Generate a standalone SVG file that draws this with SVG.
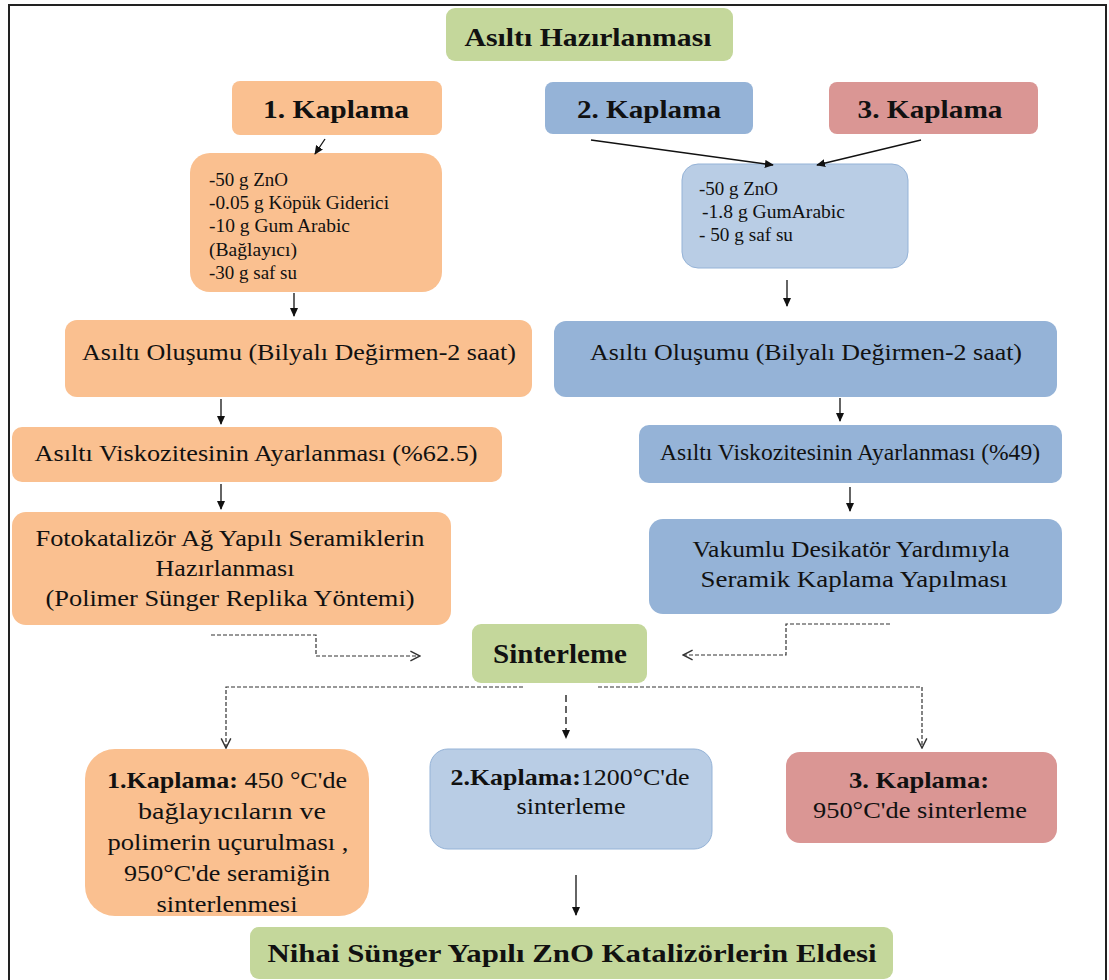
<svg xmlns="http://www.w3.org/2000/svg" width="1109" height="980" viewBox="0 0 1109 980" font-family="'Liberation Serif', 'DejaVu Serif', serif">
<style>
text{font-family:'Liberation Serif','DejaVu Serif',serif;fill:#111}
.t{font-size:26px;font-weight:bold;text-anchor:middle}
.m{font-size:24px;text-anchor:middle}
.q{font-size:23px;text-anchor:middle}
.s{font-size:18px}
.g{fill:#c4d79b}
.o{fill:#fac090}
.b{fill:#95b3d7}
.lb{fill:#b9cde5;stroke:#95b3d7;stroke-width:1}
.r{fill:#da9694}
.ln{stroke:#111;stroke-width:1.3;fill:none}
.d{stroke:#333;stroke-width:1.2;fill:none;stroke-dasharray:4 2}
</style>
<defs>
<marker id="fa" viewBox="0 0 10 10" refX="9" refY="5" markerWidth="9" markerHeight="9" orient="auto" markerUnits="userSpaceOnUse"><path d="M0,0.5 L10,5 L0,9.5 Z" fill="#111"/></marker>
<marker id="oa" viewBox="0 0 10 10" refX="9" refY="5" markerWidth="12" markerHeight="12" orient="auto" markerUnits="userSpaceOnUse"><path d="M1,1 L9,5 L1,9" fill="none" stroke="#333" stroke-width="1.2"/></marker>
</defs>
<rect x="0" y="0" width="1109" height="980" fill="#fff"/>
<rect x="9" y="5" width="1097" height="990" fill="none" stroke="#222" stroke-width="2"/>

<g id="n-asilti"><rect class="g" x="446" y="8" width="287" height="53" rx="9"/><text class="t" x="588" y="46" textLength="247" lengthAdjust="spacingAndGlyphs">Asıltı Hazırlanması</text></g>
<g id="n-k1"><rect class="o" x="232" y="81" width="210" height="54" rx="8"/><text class="t" x="336" y="118" textLength="146" lengthAdjust="spacingAndGlyphs">1. Kaplama</text></g>
<g id="n-k2"><rect class="b" x="545" y="82" width="208" height="52" rx="8"/><text class="t" x="649" y="118" textLength="144" lengthAdjust="spacingAndGlyphs">2. Kaplama</text></g>
<g id="n-k3"><rect class="r" x="829" y="82" width="209" height="52" rx="8"/><text class="t" x="930" y="118" textLength="145" lengthAdjust="spacingAndGlyphs">3. Kaplama</text></g>

<g id="n-ing1"><rect class="o" x="190" y="153" width="252" height="139" rx="20"/>
<text class="s" x="209" y="186" textLength="79" lengthAdjust="spacingAndGlyphs">-50 g ZnO</text>
<text class="s" x="209" y="209" textLength="180" lengthAdjust="spacingAndGlyphs">-0.05 g Köpük Giderici</text>
<text class="s" x="209" y="232" textLength="141" lengthAdjust="spacingAndGlyphs">-10 g Gum Arabic</text>
<text class="s" x="209" y="256" textLength="88" lengthAdjust="spacingAndGlyphs">(Bağlayıcı)</text>
<text class="s" x="209" y="279" textLength="88" lengthAdjust="spacingAndGlyphs">-30 g saf su</text></g>
<g id="n-ing2"><rect class="lb" x="682" y="164" width="226" height="104" rx="16"/>
<text class="s" x="699" y="195" textLength="79" lengthAdjust="spacingAndGlyphs">-50 g ZnO</text>
<text class="s" x="702" y="218" textLength="143" lengthAdjust="spacingAndGlyphs">-1.8 g GumArabic</text>
<text class="s" x="699" y="241" textLength="94" lengthAdjust="spacingAndGlyphs">- 50 g saf su</text></g>

<g id="n-olus1"><rect class="o" x="65" y="320" width="467" height="77" rx="12"/><text class="m" x="299" y="360" textLength="434" lengthAdjust="spacingAndGlyphs">Asıltı Oluşumu (Bilyalı Değirmen-2 saat)</text></g>
<g id="n-olus2"><rect class="b" x="554" y="321" width="503" height="76" rx="12"/><text class="m" x="806" y="360" textLength="432" lengthAdjust="spacingAndGlyphs">Asıltı Oluşumu (Bilyalı Değirmen-2 saat)</text></g>
<g id="n-visk1"><rect class="o" x="12" y="427" width="490" height="55" rx="10"/><text class="m" x="256" y="461" textLength="443" lengthAdjust="spacingAndGlyphs">Asıltı Viskozitesinin Ayarlanması (%62.5)</text></g>
<g id="n-visk2"><rect class="b" x="639" y="425" width="423" height="58" rx="10"/><text class="m" x="850" y="460" textLength="380" lengthAdjust="spacingAndGlyphs">Asıltı Viskozitesinin Ayarlanması (%49)</text></g>
<g id="n-foto"><rect class="o" x="12" y="512" width="439" height="113" rx="14"/>
<text class="m" x="230" y="546" textLength="389" lengthAdjust="spacingAndGlyphs">Fotokatalizör Ağ Yapılı Seramiklerin</text>
<text class="m" x="225" y="576" textLength="139" lengthAdjust="spacingAndGlyphs">Hazırlanması</text>
<text class="m" x="230" y="606" textLength="369" lengthAdjust="spacingAndGlyphs">(Polimer Sünger Replika Yöntemi)</text></g>
<g id="n-vak"><rect class="b" x="649" y="519" width="413" height="95" rx="14"/>
<text class="m" x="851" y="557" textLength="317" lengthAdjust="spacingAndGlyphs">Vakumlu Desikatör Yardımıyla</text>
<text class="m" x="854" y="587" textLength="307" lengthAdjust="spacingAndGlyphs">Seramik  Kaplama Yapılması</text></g>

<g id="n-sinter"><rect class="g" x="472" y="624" width="175" height="59" rx="9"/><text class="t" x="560" y="663" style="font-size:28px" textLength="134" lengthAdjust="spacingAndGlyphs">Sinterleme</text></g>

<g id="n-s1"><rect class="o" x="85" y="749" width="284" height="167" rx="30"/>
<text class="q" x="227" y="788" textLength="240" lengthAdjust="spacingAndGlyphs"><tspan font-weight="bold">1.Kaplama:</tspan> 450 °C'de</text>
<text class="q" x="232" y="819" textLength="188" lengthAdjust="spacingAndGlyphs">bağlayıcıların ve</text>
<text class="q" x="228" y="850" textLength="241" lengthAdjust="spacingAndGlyphs">polimerin uçurulması ,</text>
<text class="q" x="227" y="881" textLength="206" lengthAdjust="spacingAndGlyphs">950°C'de seramiğin</text>
<text class="q" x="227" y="912" textLength="141" lengthAdjust="spacingAndGlyphs">sinterlenmesi</text></g>
<g id="n-s2"><rect class="lb" x="430" y="749" width="282" height="100" rx="18"/>
<text class="q" x="570" y="785" textLength="239" lengthAdjust="spacingAndGlyphs"><tspan font-weight="bold">2.Kaplama:</tspan>1200°C'de</text>
<text class="q" x="571" y="814" textLength="109" lengthAdjust="spacingAndGlyphs">sinterleme</text></g>
<g id="n-s3"><rect class="r" x="786" y="752" width="271" height="91" rx="14"/>
<text class="q" x="919" y="788" style="font-weight:bold" textLength="140" lengthAdjust="spacingAndGlyphs">3. Kaplama:</text>
<text class="q" x="920" y="818" textLength="214" lengthAdjust="spacingAndGlyphs">950°C'de sinterleme</text></g>

<g id="n-final"><rect class="g" x="250" y="927" width="643" height="52" rx="9"/><text class="t" x="572" y="962" textLength="609" lengthAdjust="spacingAndGlyphs">Nihai Sünger Yapılı ZnO Katalizörlerin  Eldesi</text></g>

<g id="connectors">
<line class="ln" x1="325" y1="139" x2="315" y2="154" marker-end="url(#fa)"/>
<line class="ln" x1="591" y1="140" x2="773" y2="165" marker-end="url(#fa)"/>
<line class="ln" x1="921" y1="140" x2="817" y2="165" marker-end="url(#fa)"/>
<line class="ln" x1="294" y1="293" x2="294" y2="316" marker-end="url(#fa)"/>
<line class="ln" x1="787" y1="280" x2="787" y2="306" marker-end="url(#fa)"/>
<line class="ln" x1="221" y1="399" x2="221" y2="424" marker-end="url(#fa)"/>
<line class="ln" x1="840" y1="398" x2="840" y2="421" marker-end="url(#fa)"/>
<line class="ln" x1="221" y1="484" x2="221" y2="509" marker-end="url(#fa)"/>
<line class="ln" x1="850" y1="487" x2="850" y2="511" marker-end="url(#fa)"/>
<path class="d" d="M211,635 H316 V656 H420" marker-end="url(#oa)"/>
<path class="d" d="M890,624 H786 V655 H683" marker-end="url(#oa)"/>
<path class="d" d="M523,687 H226 V748" marker-end="url(#oa)"/>
<path class="d" d="M598,687 H922 V748" marker-end="url(#oa)"/>
<line x1="566" y1="695" x2="566" y2="738" stroke="#111" stroke-width="1.3" stroke-dasharray="7 4" marker-end="url(#fa)"/>
<line class="ln" x1="576" y1="875" x2="576" y2="915" marker-end="url(#fa)"/>
</g>
</svg>
